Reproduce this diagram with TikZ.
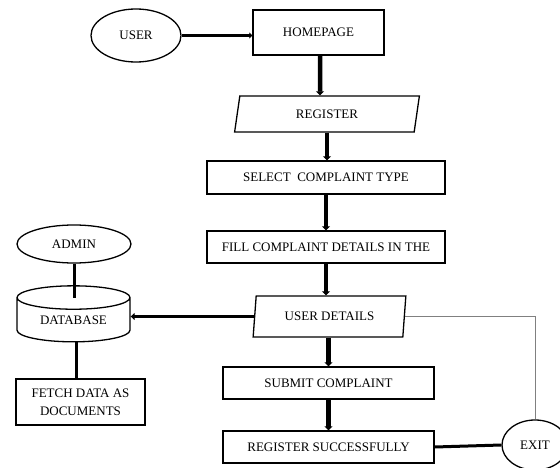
\documentclass[tikz,border=0pt]{standalone}
\usepackage{fontspec}
\setmainfont{Liberation Serif}
\usetikzlibrary{shapes.geometric,arrows.meta}
\tikzset{
  box/.style={draw,line width=1.3pt,inner sep=1pt,font=\fontsize{13}{18}\selectfont},
  oval/.style={draw,ellipse,line width=1.3pt,inner sep=0pt,font=\fontsize{13}{15}\selectfont},
  slanted/.style={draw,trapezium,trapezium left angle=78,trapezium right angle=102,
    trapezium stretches=true,line width=1.3pt,inner sep=0pt,font=\fontsize{13}{15}\selectfont},
  flow/.style={line width=4.5pt,-{Triangle[length=4pt,width=8pt]}},
  link/.style={line width=3pt},
}
\begin{document}
\begin{tikzpicture}[x=1pt,y=-1pt]
  \useasboundingbox (0,0) rectangle (560,468);
  % main flow
  \node[oval,minimum width=90pt,minimum height=53pt] (user) at (136,35.5) {USER};
  \node[box,minimum width=131pt,minimum height=45pt] (home) at (318.5,32.5) {HOMEPAGE};
  \node[slanted,minimum width=186pt,minimum height=36pt] (reg) at (327,114) {REGISTER};
  \node[box,minimum width=238pt,minimum height=33pt] (select) at (326,177.5) {SELECT\ \ COMPLAINT TYPE};
  \node[box,minimum width=238pt,minimum height=32pt] (fill) at (326,247) {FILL COMPLAINT DETAILS IN THE};
  \node[slanted,minimum width=153pt,minimum height=41pt] (ud) at (329.5,316.5) {USER DETAILS};
  \node[box,minimum width=211pt,minimum height=32pt] (submit) at (328.5,383) {SUBMIT COMPLAINT};
  \node[box,minimum width=211pt,minimum height=32pt] (success) at (328.5,447) {REGISTER SUCCESSFULLY};
  \node[oval,minimum width=66pt,minimum height=50pt] (exit) at (535,445) {EXIT};
  % admin side
  \node[oval,minimum width=114pt,minimum height=38pt] (admin) at (74,244) {ADMIN};
  \node[draw,cylinder,shape border rotate=90,aspect=0.35,line width=1.3pt,
    minimum width=113pt,minimum height=56pt,inner sep=0pt,
    font=\fontsize{13}{15}\selectfont] (db) at (73.5,320) {DATABASE};
  \node[box,minimum width=129pt,minimum height=46pt,align=center] (fetch) at (80.5,402)
    {FETCH DATA AS\\DOCUMENTS};

  \draw[link,-{Triangle[length=3pt,width=6pt]}] (user.east) -- (user.east -| home.west);
  \draw[flow] ([xshift=1.5pt]home.south) -- ([xshift=-7pt]reg.north);
  \draw[flow] (reg.south) -- (reg.south |- select.north);
  \draw[flow] (select.south -| fill.north) -- (fill.north);
  \draw[flow] (fill.south) -- (fill.south |- ud.north);
  \draw[flow] (ud.south -| submit.north) -- (submit.north);
  \draw[flow] (submit.south) -- (success.north);
  \draw[link] (success.east) -- (exit.west);
  \draw[gray,line width=0.8pt] (ud.east) -| (exit.north);
  \draw[link,-{Triangle[length=4pt,width=7pt]}] (ud.west) -- (db.east |- ud.west);
  \draw[link] (admin.south) -- (admin.south |- db.before top);
  \draw[link] ([xshift=3pt]db.south) -- ([xshift=3pt]db.south |- fetch.north);
\end{tikzpicture}
\end{document}
